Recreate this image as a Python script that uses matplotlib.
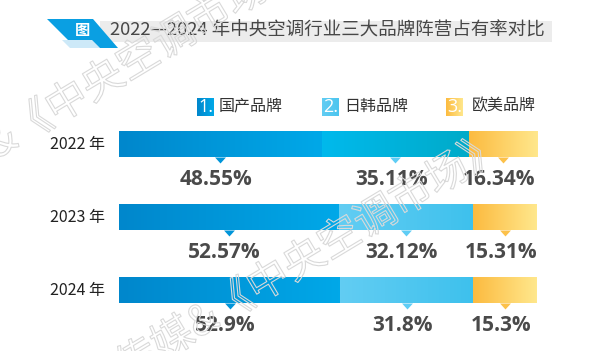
import matplotlib.pyplot as plt
import matplotlib.patheffects as pe
from matplotlib.colors import LinearSegmentedColormap
from matplotlib.patches import Polygon, Rectangle
import numpy as np

plt.rcParams['font.family'] = ['Noto Sans CJK SC', 'DejaVu Sans']

# data
years = ["2022 年", "2023 年", "2024 年"]
domestic = [48.55, 52.57, 52.9]
japan_korea = [35.11, 32.12, 31.8]
euro_us = [16.34, 15.31, 15.3]
brands = ["国产品牌", "日韩品牌", "欧美品牌"]
title = "2022—2024 年中央空调行业三大品牌阵营占有率对比"

# gradient colours (left -> right) per series, per year for the second one
blue_grad = ("#0087cc", "#00a8e8")
jk_grad = [("#00b9ec", "#00abc9"), ("#62cdf3", "#3ec1ed"), ("#62cdf3", "#3ec1ed")]
orange_grad = ("#fcbb40", "#ffe78c")
tri_cols = ["#0095d9", "#5fcdf5", "#fcc14a"]

W, H = 607, 351
fig = plt.figure(figsize=(W / 100, H / 100), dpi=100)
fig.patch.set_facecolor('white')

# overlay axes in pixel units for decorations
bg = fig.add_axes([0, 0, 1, 1])
bg.axis('off')


def hgrad(ax, x0, x1, y0, y1, c0, c1, z=2):
    cmap = LinearSegmentedColormap.from_list('g', [c0, c1])
    img = np.linspace(0, 1, 64).reshape(1, -1)
    ax.imshow(img, cmap=cmap, extent=(x0, x1, y1, y0), aspect='auto',
              interpolation='bilinear', zorder=z)


# title band
bg.add_patch(Rectangle((100, 20.5), 452, 21, color='#ececec', lw=0, zorder=1))
bg.add_patch(Polygon([(62, 40), (92, 40), (100, 48), (70, 48)], closed=True,
                     color='#cde9f8', lw=0, zorder=2))
bg.add_patch(Polygon([(47, 19), (93, 19), (118, 48), (100, 48), (92, 40), (68, 40)],
                     closed=True, color='#0a9fe2', lw=0, zorder=3))
bg.text(83, 30, "图", color='white', fontsize=11, fontweight='bold',
        ha='center', va='center', zorder=4)
bg.text(110, 31, title, color='#474747', fontsize=13.3,
        ha='left', va='center', zorder=4)

# legend
leg_x = [197, 322, 446]
leg_cols = [blue_grad, ("#62cdf3", "#4cc5ef"), orange_grad]
for k, (lx, name, cc) in enumerate(zip(leg_x, brands, leg_cols)):
    hgrad(bg, lx, lx + 17, 98, 116, cc[0], cc[1], z=3)
    bg.text(lx + 8.5, 107.5, f"{k + 1}.", color='white', fontsize=13,
            ha='center', va='center', zorder=4, family='Open Sans')
    bg.text(lx + 22 + (4 if k == 2 else 0), 106, name, color='#333333',
            fontsize=11.5, ha='left', va='center', zorder=4)
bg.set_xlim(0, W)
bg.set_ylim(H, 0)

# bar axes
row_px = 73
ax = fig.add_axes([119 / W, (H - 326.5) / H, 418 / W, 3 * row_px / H])
ax.axis('off')
bh = 26 / row_px

for i, yr in enumerate(years):
    vals = [domestic[i], japan_korea[i], euro_us[i]]
    grads = [blue_grad, jk_grad[i], orange_grad]
    left = 0
    for j, (v, g) in enumerate(zip(vals, grads)):
        ax.barh(i, v, left=left, height=bh, color=g[0], lw=0, zorder=1)
        hgrad(ax, left, left + v, i - bh / 2, i + bh / 2, g[0], g[1], z=2)
        c = left + v / 2
        ax.plot(c, i + bh / 2, marker=[(-1, 0), (1, 0), (0, -1.1)],
                markersize=8.6, color=tri_cols[j], mew=0, zorder=3)
        ax.text(c - 1, i + 0.49, f"{v:g}%", color='#4a4a4a', fontsize=15,
                fontweight='bold', family='Open Sans', ha='center', va='center')
        left += v
    ax.text(-3.3, i, yr, color='#222222', fontsize=11.5, ha='right', va='center')

ax.set_xlim(0, 100)
ax.set_ylim(2.5, -0.5)

# faint outlined watermark
wm = fig.add_axes([0, 0, 1, 1], zorder=10)
wm.set_xlim(0, W)
wm.set_ylim(H, 0)
wm.axis('off')
for (x, y, s) in [(-10, 150, "&《中央空调市场》"), (120, 372, "传媒&《中央空调市场》")]:
    wm.text(x, y, s, fontsize=30, rotation=31, rotation_mode='anchor',
            ha='left', va='center', color='none',
            path_effects=[pe.withStroke(linewidth=0.8, foreground='#d9d9d9')])

fig.savefig("out.png", dpi=100)
